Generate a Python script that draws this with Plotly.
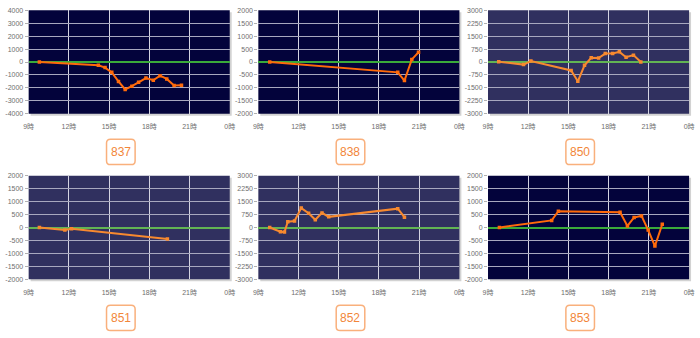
import plotly.graph_objects as go

# x axis: hours of the day
hour_ticks = [9, 12, 15, 18, 21, 24]
hour_labels = ["9時", "12時", "15時", "18時", "21時", "0時"]

codes = ["837", "838", "850", "851", "852", "853"]

# time (decimal hours) and value for each series
t_837 = [9.8, 14.2, 14.7, 15.2, 15.7, 16.2, 16.7, 17.2, 17.75, 18.3, 18.8, 19.3, 19.85, 20.4]
v_837 = [0, -250, -430, -800, -1500, -2120, -1870, -1570, -1240, -1410, -1060, -1310, -1820, -1800]

t_838 = [9.85, 19.4, 19.9, 20.45, 20.95]
v_838 = [0, -400, -720, 100, 380]

t_850 = [9.8, 11.65, 12.2, 15.2, 15.7, 16.2, 16.7, 17.25, 17.75, 18.3, 18.8, 19.3, 19.85, 20.4]
v_850 = [20, -150, 60, -490, -1120, -190, 250, 230, 490, 490, 590, 280, 400, 0]

t_851 = [9.8, 11.7, 12.2, 19.35]
v_851 = [0, -100, -50, -440]

t_852 = [9.85, 10.65, 10.95, 11.2, 11.7, 12.2, 12.75, 13.25, 13.75, 14.25, 19.4, 19.9]
v_852 = [0, -245, -265, 340, 380, 1130, 830, 450, 850, 620, 1095, 600]

t_853 = [9.85, 13.75, 14.25, 18.85, 19.4, 19.9, 20.45, 20.95, 21.45, 22.0]
v_853 = [0, 275, 630, 590, 60, 390, 450, -100, -720, 125]

y_spans = [4000, 2000, 3000, 2000, 3000, 2000]
y_steps = [1000, 500, 750, 500, 750, 500]

series = [(t_837, v_837), (t_838, v_838), (t_850, v_850),
          (t_851, v_851), (t_852, v_852), (t_853, v_853)]

# panel themes: dark navy or slate
dark = [True, True, False, False, False, True]

W, H = 700, 338


def px(x):
    return x / W


def py(y):
    return 1 - y / H


col_left = [24, 257, 490]
plot_w = 204
row_top = [6.5, 175.5]
plot_h = 105.5

fig = go.Figure()
shapes = []
annotations = []

tick_font = dict(family="Liberation Sans, Arial, Noto Sans CJK JP", size=7, color="#6e6e6e")

for i, (ts, vs) in enumerate(series):
    r, c = divmod(i, 3)
    n = "" if i == 0 else str(i + 1)
    x0, x1 = col_left[c], col_left[c] + plot_w
    y0, y1 = row_top[r], row_top[r] + plot_h
    bg = "#03033b" if dark[i] else "#30305f"
    line_col = "#ff6a0a" if dark[i] else "#f7892f"
    zero_col = "#3aaa3a" if dark[i] else "#62b453"

    fig.add_trace(go.Scatter(
        x=ts, y=vs, mode="lines+markers",
        line=dict(color=line_col, width=2),
        marker=dict(size=3.5, symbol="square", color=line_col),
        xaxis="x" + n, yaxis="y" + n, showlegend=False,
        hoverinfo="x+y",
    ))

    span, step = y_spans[i], y_steps[i]
    yt = list(range(-span, span + 1, step))

    fig.layout["xaxis" + n] = dict(
        domain=[px(x0), px(x1)], anchor="y" + n, range=[9, 24],
        tickvals=hour_ticks, ticktext=hour_labels, tickfont=tick_font,
        showgrid=True, gridcolor="#d4d4e2", gridwidth=1.3,
        ticks="outside", ticklen=6, tickcolor="rgba(0,0,0,0)",
        zeroline=False, showline=False, fixedrange=True,
    )
    fig.layout["yaxis" + n] = dict(
        domain=[py(y1), py(y0)], anchor="x" + n, range=[-span, span],
        tickvals=yt, ticktext=[str(v) for v in yt], tickfont=tick_font,
        showgrid=True, gridcolor="#a8a8bf", gridwidth=1.2,
        ticks="outside", ticklen=3, tickcolor="#b0b0b0",
        zeroline=True, zerolinecolor=zero_col, zerolinewidth=2,
        showline=False, fixedrange=True,
    )

    # drop shadow and plot background
    shapes.append(dict(type="rect", xref="paper", yref="paper", layer="below",
                       x0=px(x0 + 2), x1=px(x1 + 2), y0=py(y1 + 2), y1=py(y0 + 2),
                       fillcolor="#d2d2d2", line=dict(width=0)))
    shapes.append(dict(type="rect", xref="paper", yref="paper", layer="below",
                       x0=px(x0), x1=px(x1), y0=py(y1), y1=py(y0),
                       fillcolor=bg, line=dict(width=0)))

    # rounded code label under each panel
    cx = 117.5 + 233 * c
    cy = 151 if r == 0 else 320.5
    bw, bh, rad = 29, 26, 4
    lx, rx, ty, by = cx - bw / 2, cx + bw / 2, cy - bh / 2, cy + bh / 2
    path = (f"M {px(lx + rad)},{py(ty)} L {px(rx - rad)},{py(ty)} "
            f"Q {px(rx)},{py(ty)} {px(rx)},{py(ty + rad)} "
            f"L {px(rx)},{py(by - rad)} Q {px(rx)},{py(by)} {px(rx - rad)},{py(by)} "
            f"L {px(lx + rad)},{py(by)} Q {px(lx)},{py(by)} {px(lx)},{py(by - rad)} "
            f"L {px(lx)},{py(ty + rad)} Q {px(lx)},{py(ty)} {px(lx + rad)},{py(ty)} Z")
    shapes.append(dict(type="path", xref="paper", yref="paper", path=path,
                       line=dict(color="#f9b07c", width=1.5), fillcolor="white"))
    annotations.append(dict(xref="paper", yref="paper", x=px(cx), y=py(cy),
                            text=codes[i], showarrow=False, xanchor="center", yanchor="middle",
                            font=dict(family="Liberation Sans, Arial", size=12, color="#f2863a")))

fig.update_layout(
    width=W, height=H,
    margin=dict(l=0, r=0, t=0, b=0),
    paper_bgcolor="white", plot_bgcolor="rgba(0,0,0,0)",
    shapes=shapes, annotations=annotations,
)

fig.write_html("out.html", config={"displayModeBar": False})
